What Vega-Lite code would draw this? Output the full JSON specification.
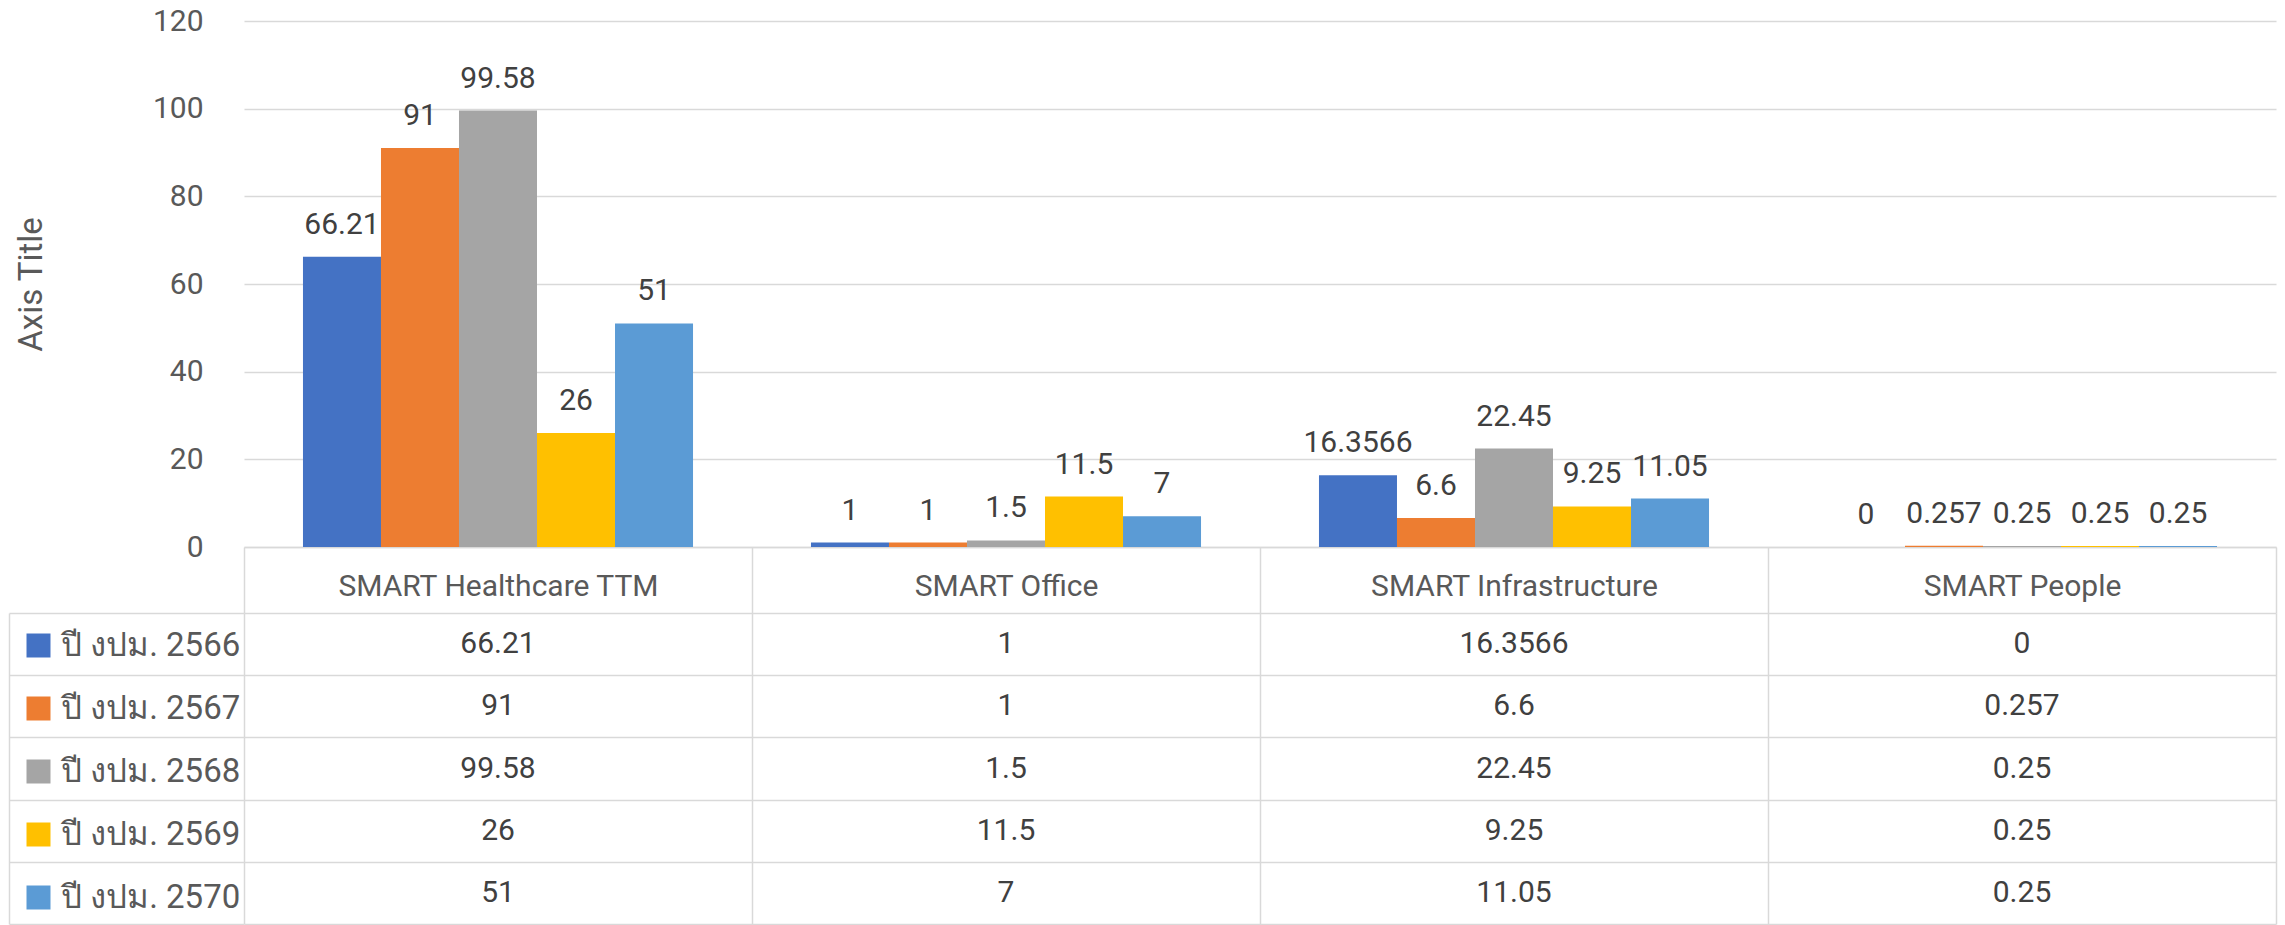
{
  "$schema": "https://vega.github.io/schema/vega-lite/v6.json",
  "background": "white",
  "padding": {"left": 8, "top": 6, "right": 8, "bottom": 0},
  "bounds": "flush",
  "spacing": 66,
  "resolve": {"scale": {"color": "independent"}, "legend": {"color": "independent"}},
  "config": {
    "font": "Liberation Sans Narrow, Roboto, sans-serif",
    "view": {"stroke": null}
  },
  "datasets": {
    "d": [
      {"category": "SMART Healthcare TTM", "series": "ปี งปม. 2566", "value": 66.21},
      {"category": "SMART Office", "series": "ปี งปม. 2566", "value": 1},
      {"category": "SMART Infrastructure", "series": "ปี งปม. 2566", "value": 16.3566},
      {"category": "SMART People", "series": "ปี งปม. 2566", "value": 0},
      {"category": "SMART Healthcare TTM", "series": "ปี งปม. 2567", "value": 91},
      {"category": "SMART Office", "series": "ปี งปม. 2567", "value": 1},
      {"category": "SMART Infrastructure", "series": "ปี งปม. 2567", "value": 6.6},
      {"category": "SMART People", "series": "ปี งปม. 2567", "value": 0.257},
      {"category": "SMART Healthcare TTM", "series": "ปี งปม. 2568", "value": 99.58},
      {"category": "SMART Office", "series": "ปี งปม. 2568", "value": 1.5},
      {"category": "SMART Infrastructure", "series": "ปี งปม. 2568", "value": 22.45},
      {"category": "SMART People", "series": "ปี งปม. 2568", "value": 0.25},
      {"category": "SMART Healthcare TTM", "series": "ปี งปม. 2569", "value": 26},
      {"category": "SMART Office", "series": "ปี งปม. 2569", "value": 11.5},
      {"category": "SMART Infrastructure", "series": "ปี งปม. 2569", "value": 9.25},
      {"category": "SMART People", "series": "ปี งปม. 2569", "value": 0.25},
      {"category": "SMART Healthcare TTM", "series": "ปี งปม. 2570", "value": 51},
      {"category": "SMART Office", "series": "ปี งปม. 2570", "value": 7},
      {"category": "SMART Infrastructure", "series": "ปี งปม. 2570", "value": 11.05},
      {"category": "SMART People", "series": "ปี งปม. 2570", "value": 0.25}
    ]
  },
  "vconcat": [
    {
      "width": 2032,
      "height": 526,
      "data": {"name": "d"},
      "encoding": {
        "x": {
          "field": "category", "type": "nominal",
          "sort": ["SMART Healthcare TTM", "SMART Office", "SMART Infrastructure", "SMART People"],
          "scale": {"paddingInner": 0, "paddingOuter": 0},
          "axis": {
            "title": null, "labelAngle": 0, "labelFontSize": 30, "labelColor": "#595959",
            "labelLimit": 600, "labelBaseline": "alphabetic", "labelPadding": -18,
            "ticks": true, "tickSize": 66, "tickBand": "extent", "tickColor": "#d9d9d9", "tickWidth": 1.5,
            "domain": true, "domainColor": "#d9d9d9", "domainWidth": 1.5, "grid": false
          }
        },
        "xOffset": {
          "field": "series", "type": "nominal",
          "scale": {"paddingInner": 0, "paddingOuter": 0.756}
        },
        "y": {
          "field": "value", "type": "quantitative",
          "scale": {"domain": [0, 120], "nice": false},
          "axis": {
            "title": "Axis Title", "values": [0, 20, 40, 60, 80, 100, 120],
            "grid": true, "gridColor": "#d9d9d9", "gridWidth": 1.5,
            "domain": false, "ticks": false, "labelPadding": 41,
            "labelFontSize": 30, "labelColor": "#595959",
            "titleFontSize": 33, "titleColor": "#595959", "titleFontWeight": "normal",
            "titlePadding": 104
          }
        }
      },
      "layer": [
        {
          "mark": {"type": "bar"},
          "encoding": {
            "color": {
              "field": "series", "type": "nominal",
              "scale": {
                "domain": ["ปี งปม. 2566", "ปี งปม. 2567", "ปี งปม. 2568", "ปี งปม. 2569", "ปี งปม. 2570"],
                "range": ["#4472C4", "#ED7D31", "#A5A5A5", "#FFC000", "#5B9BD5"]
              },
              "legend": null
            }
          }
        },
        {
          "mark": {"type": "text", "baseline": "alphabetic", "dy": -23, "fontSize": 30, "color": "#404040"},
          "encoding": {"text": {"field": "value", "type": "nominal"}}
        }
      ]
    },
    {
      "width": 2032,
      "height": 311,
      "data": {"name": "d"},
      "encoding": {
        "x": {
          "field": "category", "type": "nominal",
          "sort": ["SMART Healthcare TTM", "SMART Office", "SMART Infrastructure", "SMART People"],
          "scale": {"paddingInner": 0, "paddingOuter": 0},
          "axis": {
            "title": null, "labels": false, "ticks": false, "domain": false,
            "grid": true, "tickBand": "extent", "gridColor": "#d9d9d9", "gridWidth": 1.5
          }
        },
        "y": {
          "field": "series", "type": "nominal",
          "scale": {"paddingInner": 0, "paddingOuter": 0},
          "axis": {
            "title": null, "orient": "left", "offset": 235, "labels": false,
            "domain": true, "domainColor": "#d9d9d9", "domainWidth": 1.5,
            "ticks": true, "tickSize": -235, "tickBand": "extent", "tickColor": "#d9d9d9", "tickWidth": 1.5,
            "grid": true, "gridColor": "#d9d9d9", "gridWidth": 1.5
          }
        }
      },
      "layer": [
        {
          "mark": {"type": "square", "opacity": 0},
          "encoding": {
            "color": {
              "field": "series", "type": "nominal",
              "scale": {
                "domain": ["ปี งปม. 2566", "ปี งปม. 2567", "ปี งปม. 2568", "ปี งปม. 2569", "ปี งปม. 2570"],
                "range": ["#4472C4", "#ED7D31", "#A5A5A5", "#FFC000", "#5B9BD5"]
              },
              "legend": {
                "orient": "none", "legendX": -222, "legendY": 16, "title": null,
                "symbolType": "square", "symbolSize": 576, "symbolStrokeWidth": 0, "symbolOpacity": 1,
                "labelFontSize": 33, "labelColor": "#595959", "labelOffset": 6, "labelLimit": 400,
                "rowPadding": 29, "padding": 0
              }
            }
          }
        },
        {
          "mark": {"type": "text", "fontSize": 30, "color": "#404040", "baseline": "middle"},
          "encoding": {"text": {"field": "value", "type": "nominal"}}
        }
      ]
    }
  ]
}
